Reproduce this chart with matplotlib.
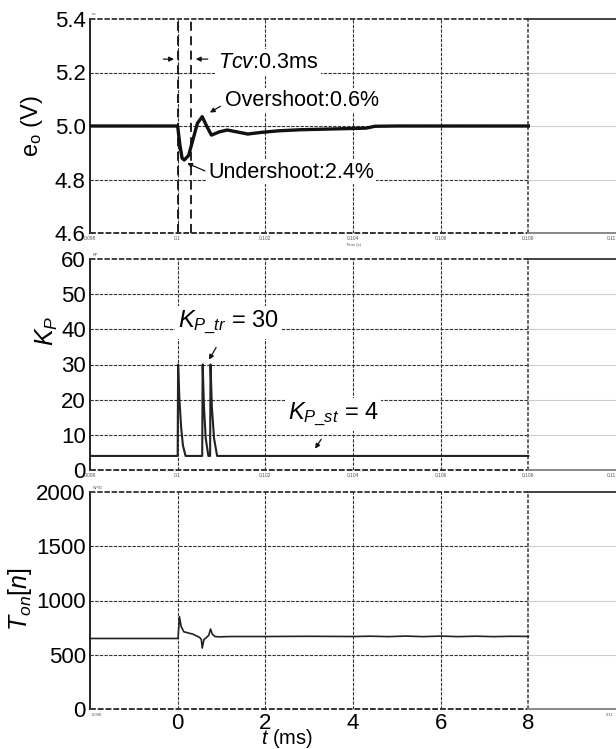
import matplotlib
matplotlib.use("Agg")
import matplotlib.pyplot as plt

plt.rcParams['font.family'] = ['Liberation Sans', 'DejaVu Sans']
plt.rcParams['mathtext.fontset'] = 'custom'
plt.rcParams['mathtext.rm'] = 'Liberation Sans'
plt.rcParams['mathtext.it'] = 'Liberation Sans:italic'

# ---------------- data ----------------
t_eo = [-2, 0, 0.05, 0.1, 0.15, 0.25, 0.35, 0.45, 0.56, 0.66, 0.77, 0.95, 1.13, 1.35, 1.6, 1.9, 2.3, 2.8, 3.3, 3.8, 4.3, 4.5, 5, 6, 7, 8]
eo   = [5.0, 5.0, 4.93, 4.88, 4.873, 4.89, 4.95, 5.01, 5.035, 5.0, 4.966, 4.978, 4.985, 4.978, 4.97, 4.976, 4.982, 4.986, 4.988, 4.99, 4.992, 4.999, 5.0, 5.0, 5.0, 5.0]

t_kp = [-2, 0, 0.01, 0.04, 0.08, 0.12, 0.18, 0.56, 0.57, 0.6, 0.64, 0.70, 0.74, 0.75, 0.78, 0.83, 0.9, 8]
kp   = [4, 4, 30, 20, 12, 7, 4, 4, 30, 18, 9, 4, 4, 30, 18, 9, 4, 4]

t_ton = [-2, 0, 0.01, 0.04, 0.08, 0.14, 0.25, 0.35, 0.5, 0.54, 0.56, 0.6, 0.66, 0.71, 0.75, 0.79, 0.85, 0.95, 1.2, 2, 3, 4, 4.4, 4.8, 5.2, 5.6, 6.0, 6.4, 6.8, 7.2, 7.6, 8]
ton   = [650, 650, 660, 851, 760, 712, 700, 690, 660, 640, 562, 640, 660, 680, 737, 690, 668, 665, 668, 668, 670, 668, 671, 667, 672, 667, 672, 667, 671, 667, 670, 669]

tiny_labels = ['0.098', '0.1', '0.102', '0.104', '0.106', '0.108', '0.11']
x_ticks = [-2, 0, 2, 4, 6, 8, 10]
big_labels = ['', '0', '2', '4', '6', '8', '']

eo_ticks = [4.6, 4.8, 5.0, 5.2, 5.4]
eo_labels = ['4.6', '4.8', '5.0', '5.2', '5.4']
kp_ticks = [0, 10, 20, 30, 40, 50, 60]
ton_ticks = [0, 500, 1000, 1500, 2000]

# ---------------- figure ----------------
W, H = 616, 749
fig = plt.figure(figsize=(W / 100, H / 100), dpi=100)

def rect(top, bottom):
    return [90 / W, 1 - bottom / H, 1 - 90 / W, (bottom - top) / H]

ax1 = fig.add_axes(rect(19, 233))
ax2 = fig.add_axes(rect(259, 470))
ax3 = fig.add_axes(rect(492, 709))

GRID = dict(color='#333333', lw=0.8, ls=(0, (3, 1.2)), zorder=1)
LIGHT = dict(color='#cccccc', lw=0.8, ls='-', zorder=1)

def style(ax, yticks, ylo, yhi):
    ax.set_xlim(-2, 10)
    ax.set_ylim(ylo, yhi)
    for s in ax.spines.values():
        s.set_visible(False)
    for y in yticks[1:-1]:
        ax.plot([-2, 8], [y, y], **GRID)
        ax.plot([8, 10], [y, y], **LIGHT)
    for x in [0, 2, 4, 6]:
        ax.plot([x, x], [ylo, yhi], **GRID)
    ax.plot([8, 8], [ylo, yhi], color='#555555', lw=1.3, ls=(0, (2, 1)), zorder=1)
    # frame
    ax.plot([-2, -2], [ylo, yhi], color='#222222', lw=1.4, clip_on=False, zorder=3)
    ax.plot([-2, 8], [yhi, yhi], color='#333333', lw=1.3, ls=(0, (3, 1)), clip_on=False, zorder=3)
    ax.plot([8, 10], [yhi, yhi], color='#222222', lw=1.2, clip_on=False, zorder=3)
    ax.plot([-2, 8], [ylo, ylo], color='#333333', lw=1.4, ls=(0, (3, 1)), clip_on=False, zorder=3)
    ax.plot([8, 10], [ylo, ylo], color='#888888', lw=1.4, clip_on=False, zorder=3)
    ax.set_yticks(yticks)
    ax.tick_params(axis='y', length=0, pad=3, labelsize=16)
    ax.tick_params(axis='x', length=0)

def tiny_x(ax):
    ax.set_xticks(x_ticks)
    ax.set_xticklabels(tiny_labels, fontsize=3.5, color='#555555')
    ax.get_xticklabels()[-1].set_ha('right')
    ax.tick_params(axis='x', pad=2)

# ---- top: eo ----
style(ax1, eo_ticks, 4.6, 5.4)
ax1.set_yticklabels(eo_labels)
ax1.plot(t_eo, eo, color='#111111', lw=2.4, zorder=4)
ax1.axvline(0, color='#111111', lw=1.3, ls=(0, (5, 3)), zorder=2)
ax1.axvline(0.3, color='#111111', lw=1.3, ls=(0, (5, 3)), zorder=2)
tiny_x(ax1)
ax1.set_ylabel(r'$\mathregular{e_o}$ (V)', fontsize=17)
ax1.yaxis.set_label_coords(-0.086, 0.5)
ax1.text(-1.95, 5.41, 'eo', fontsize=3, color='#555555', va='bottom')
ax1.text(4, 4.563, 'Time (s)', fontsize=3, color='#555555', ha='center', va='top')

arr = dict(arrowstyle='-|>', color='#111111', lw=0.9, mutation_scale=7)
ax1.text(0.91, 5.239, r'$Tcv$:0.3ms', fontsize=15.5, ha='left', va='center', zorder=5,
         bbox=dict(facecolor='white', edgecolor='none', pad=2))
ax1.annotate('', xy=(-0.02, 5.25), xytext=(-0.39, 5.25), arrowprops=arr, zorder=6)
ax1.annotate('', xy=(0.35, 5.25), xytext=(0.75, 5.25), arrowprops=arr, zorder=6)
ax1.text(1.07, 5.097, 'Overshoot:0.6%', fontsize=15.5, ha='left', va='center', zorder=5,
         bbox=dict(facecolor='white', edgecolor='none', pad=1))
ax1.annotate('', xy=(0.68, 5.045), xytext=(1.03, 5.079), arrowprops=arr, zorder=6)
ax1.text(0.71, 4.828, 'Undershoot:2.4%', fontsize=15.5, ha='left', va='center', zorder=5,
         bbox=dict(facecolor='white', edgecolor='none', pad=1))
ax1.annotate('', xy=(0.16, 4.865), xytext=(0.68, 4.828), arrowprops=arr, zorder=6)

# ---- middle: Kp ----
style(ax2, kp_ticks, 0, 60)
ax2.plot(t_kp, kp, color='#222222', lw=1.5, zorder=4)
tiny_x(ax2)
ax2.set_ylabel(r'$K_P$', fontsize=18)
ax2.yaxis.set_label_coords(-0.057, 0.66)
ax2.text(-1.95, 60.5, 'KP', fontsize=3, color='#555555', va='bottom')
ax2.text(0.0, 42.0, r'$K_{P\_tr}$ = 30', fontsize=17, ha='left', va='center', zorder=5,
         bbox=dict(facecolor='white', edgecolor='none', pad=2))
ax2.annotate('', xy=(0.68, 30.7), xytext=(0.91, 35.5), arrowprops=arr, zorder=6)
ax2.text(2.51, 15.8, r'$K_{P\_st}$ = 4', fontsize=17, ha='left', va='center', zorder=5,
         bbox=dict(facecolor='white', edgecolor='none', pad=2))
ax2.annotate('', xy=(3.1, 5.4), xytext=(3.31, 9.4), arrowprops=arr, zorder=6)

# ---- bottom: Ton ----
style(ax3, ton_ticks, 0, 2000)
ax3.plot(t_ton, ton, color='#222222', lw=1.2, zorder=4)
ax3.set_xticks(x_ticks)
ax3.set_xticklabels(big_labels, fontsize=16)
ax3.tick_params(axis='x', pad=3)
ax3.set_ylabel(r'$T_{on}$[$n$]', fontsize=18)
ax3.yaxis.set_label_coords(-0.106, 0.507)
ax3.text(-1.95, 2020, 'NPID', fontsize=3, color='#555555', va='bottom')
ax3.text(-1.95, -40, '0.098', fontsize=3, color='#555555', va='top')
ax3.text(9.95, -40, '0.11', fontsize=3, color='#555555', va='top', ha='right')
fig.text(287 / W, 1 - 738.5 / H, r'$t$ (ms)', fontsize=14.5, ha='center', va='center')

fig.savefig('out.png', dpi=100)
